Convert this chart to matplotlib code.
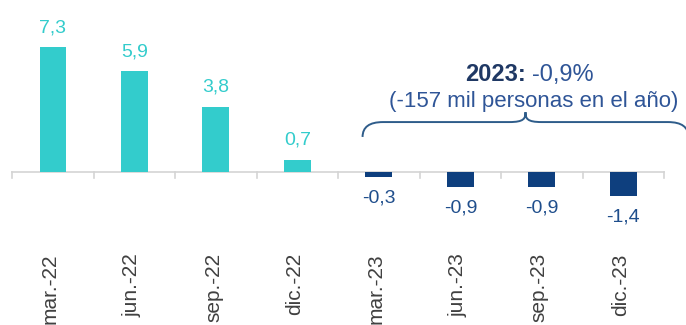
import numpy as np
import matplotlib.pyplot as plt
from matplotlib.path import Path
from matplotlib.patches import PathPatch

plt.rcParams['font.family'] = ['Liberation Sans', 'DejaVu Sans']

quarters = ['mar.-22', 'jun.-22', 'sep.-22', 'dic.-22',
            'mar.-23', 'jun.-23', 'sep.-23', 'dic.-23']
growth = [7.3, 5.9, 3.8, 0.7, -0.3, -0.9, -0.9, -1.4]
year_total = '-0,9%'
year_note = '(-157 mil personas en el año)'

teal = '#33cccc'
navy = '#0e3f7e'
label_blue = '#2f5597'
axis_grey = '#d4d4d4'

fig = plt.figure(figsize=(6.86, 3.25), dpi=100)
ax = fig.add_axes([0, 0, 1, 1])
ax.set_xlim(-0.65, 7.77)
ax.set_ylim(-8.95, 10.06)
ax.axis('off')

x = np.arange(len(quarters))
colors = [teal if v >= 0 else navy for v in growth]
ax.bar(x, growth, width=0.33, color=colors, zorder=3)

# baseline with small ticks between categories
ax.plot([-0.5, 7.5], [0, 0], color=axis_grey, lw=1.2, zorder=2)
for b in np.arange(-0.5, 8.0, 1.0):
    ax.plot([b, b], [0, -0.35], color=axis_grey, lw=1.2, zorder=2)

for xi, v, c in zip(x, growth, colors):
    txt = f'{v:.1f}'.replace('.', ',')
    if v >= 0:
        ax.annotate(txt, (xi, v), xytext=(0, 8), textcoords='offset points',
                    ha='center', va='bottom', fontsize=14, color=c)
    else:
        ax.annotate(txt, (xi, v), xytext=(0, -9), textcoords='offset points',
                    ha='center', va='top', fontsize=14, color='#1f4e8c')

for xi, q in zip(x, quarters):
    ax.text(xi - 0.03, -4.75, q, rotation=90, ha='center', va='top',
            fontsize=15, color='#404040')

# curly brace over 2023
xl, xm, xr = 3.8, 5.8, 7.8
y0, y1, y2 = 2.05, 2.92, 3.5
verts = [(xl, y0), (xl, y1), (xl + 0.25, y1), (xm - 0.2, y1),
         (xm - 0.02, y1), (xm, y1 + 0.2), (xm, y2),
         (xm, y1 + 0.2), (xm + 0.02, y1), (xm + 0.2, y1),
         (xr - 0.25, y1), (xr, y1), (xr, y0)]
codes = [Path.MOVETO, Path.CURVE3, Path.CURVE3, Path.LINETO,
         Path.CURVE4, Path.CURVE4, Path.CURVE4,
         Path.CURVE4, Path.CURVE4, Path.CURVE4,
         Path.LINETO, Path.CURVE3, Path.CURVE3]
ax.add_patch(PathPatch(Path(verts, codes), fill=False, edgecolor='#2e5c8a',
                       lw=1.4, clip_on=False))

ax.text(5.80, 5.7, '2023:', ha='right', va='center', fontsize=17,
        fontweight='bold', color='#1f3864')
ax.text(5.88, 5.7, year_total, ha='left', va='center', fontsize=17,
        color=label_blue)
ax.text(5.9, 4.1, year_note, ha='center', va='center', fontsize=16,
        color=label_blue)

fig.savefig('out.png', dpi=100)
